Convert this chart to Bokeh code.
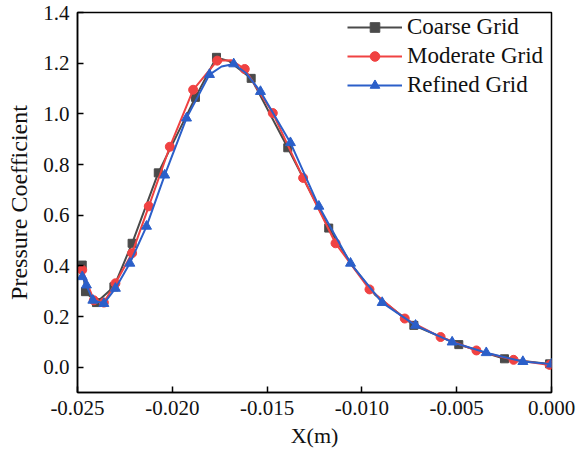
from bokeh.plotting import figure
from bokeh.models import FixedTicker, PrintfTickFormatter, Range1d, Legend, LegendItem, ColumnDataSource
from bokeh.embed import file_html
from bokeh.resources import INLINE

# Coarse grid (squares: marked points)
coarse_x = [-0.02475, -0.02458, -0.02400, -0.02308, -0.02212, -0.02074, -0.01878,
            -0.01767, -0.01584, -0.01391, -0.01175, -0.00726, -0.00489, -0.00248, -0.00010]
coarse_y = [0.403, 0.298, 0.255, 0.317, 0.489, 0.767, 1.065,
            1.223, 1.140, 0.866, 0.549, 0.165, 0.089, 0.033, 0.013]
# extra points (unmarked)
coarse_curve_x = [-0.01700, -0.01050, -0.00930]
coarse_curve_y = [1.208, 0.400, 0.285]

# Moderate grid (circles)
moderate_x = [-0.02475, -0.02414, -0.02361, -0.02300, -0.02212, -0.02124, -0.02013,
              -0.01890, -0.01763, -0.01618, -0.01470, -0.01310, -0.01139, -0.00960,
              -0.00774, -0.00585, -0.00396, -0.00200, -0.00010]
moderate_y = [0.384, 0.264, 0.255, 0.331, 0.450, 0.635, 0.870,
              1.095, 1.210, 1.177, 1.003, 0.747, 0.489, 0.307,
              0.192, 0.119, 0.066, 0.029, 0.009]
moderate_curve_x = [-0.01690]
moderate_curve_y = [1.212]

# Refined grid (triangles)
refined_x = [-0.02475, -0.02453, -0.02419, -0.02361, -0.02300, -0.02224, -0.02136,
             -0.02040, -0.01925, -0.01804, -0.01676, -0.01535, -0.01377, -0.01227,
             -0.01060, -0.00893, -0.00717, -0.00524, -0.00344, -0.00151, 0.0]
refined_y = [0.357, 0.324, 0.264, 0.251, 0.311, 0.410, 0.556,
             0.758, 0.983, 1.155, 1.197, 1.088, 0.886, 0.635,
             0.410, 0.255, 0.165, 0.099, 0.057, 0.022, 0.012]
refined_curve_x = [-0.01740, -0.01610]
refined_curve_y = [1.187, 1.160]

x_ticks = [-0.025, -0.020, -0.015, -0.010, -0.005, 0.0]
y_ticks = [0.0, 0.2, 0.4, 0.6, 0.8, 1.0, 1.2, 1.4]

FONT = "Liberation Serif"


def merged(xs, ys, ex, ey):
    pts = sorted(zip(list(xs) + list(ex), list(ys) + list(ey)))
    return [a for a, _ in pts], [b for _, b in pts]


p = figure(width=577, height=457, output_backend="svg", toolbar_location=None,
           x_range=Range1d(-0.025, 0.0), y_range=Range1d(-0.1, 1.4),
           min_border_left=77, min_border_right=26, min_border_top=12, min_border_bottom=65)

series = [
    (coarse_x, coarse_y, coarse_curve_x, coarse_curve_y, "#4a4a4a", "square", 8, 6, "Coarse Grid"),
    (moderate_x, moderate_y, moderate_curve_x, moderate_curve_y, "#f04242", "circle", 9, 7, "Moderate Grid"),
    (refined_x, refined_y, refined_curve_x, refined_curve_y, "#2b5fc9", "triangle", 10, 7, "Refined Grid"),
]
items = []
for xs, ys, ex, ey, c, m, s, ls, lab in series:
    lx, ly = merged(xs, ys, ex, ey)
    lr = p.line(lx, ly, line_color=c, line_width=2)
    p.scatter(xs, ys, marker=m, size=s, fill_color=c, line_color=c)
    # small marker renderer, placed outside the visible range, used only for the legend swatch
    sr = p.scatter(x="x", y="y", source=ColumnDataSource(dict(x=[1.0], y=[10.0])),
                   marker=m, size=ls, fill_color=c, line_color=c)
    items.append(LegendItem(label=lab, renderers=[lr, sr]))

p.grid.visible = False
p.outline_line_color = "black"
p.outline_line_width = 1.5
p.outline_line_alpha = 1

for ax in (p.xaxis[0], p.yaxis[0]):
    ax.major_tick_in = 6
    ax.major_tick_out = 0
    ax.minor_tick_line_color = None
    ax.axis_line_width = 1.5
    ax.major_tick_line_width = 1.5
    ax.major_label_text_font = FONT
    ax.major_label_text_font_size = "21px"
    ax.major_label_text_color = "#111111"
    ax.axis_label_text_font = FONT
    ax.axis_label_text_font_style = "normal"
    ax.axis_label_text_color = "#111111"

p.xaxis.axis_label_text_font_size = "22px"
p.yaxis.axis_label_text_font_size = "24px"
p.xaxis.ticker = FixedTicker(ticks=x_ticks)
p.xaxis.formatter = PrintfTickFormatter(format="%.3f")
p.yaxis.ticker = FixedTicker(ticks=y_ticks)
p.yaxis.formatter = PrintfTickFormatter(format="%.1f")
p.xaxis.axis_label = "X(m)"
p.yaxis.axis_label = "Pressure Coefficient"
p.xaxis.major_label_standoff = 8
p.yaxis.major_label_standoff = 8
p.yaxis.axis_label_standoff = 8

legend = Legend(items=items, location=(270, 294))
legend.border_line_color = None
legend.background_fill_alpha = 0
legend.label_text_font = FONT
legend.label_text_font_size = "23px"
legend.label_text_color = "#111111"
legend.glyph_width = 55
legend.glyph_height = 24
legend.label_height = 24
legend.spacing = 3
legend.margin = 0
legend.padding = 0
legend.label_standoff = 5
p.add_layout(legend, "center")

open("out.html", "w").write(file_html(p, INLINE))
